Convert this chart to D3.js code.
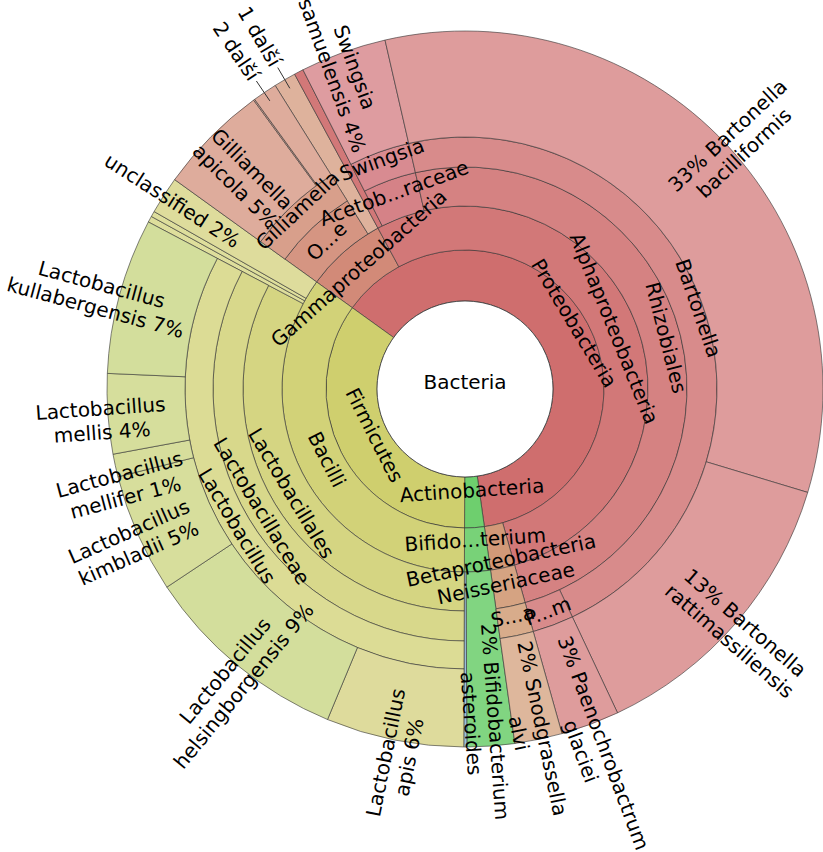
<!DOCTYPE html>
<html>
<head>
<meta charset="utf-8">
<script src="https://cdn.jsdelivr.net/npm/d3@7/dist/d3.min.js"></script>
<style>
body { margin: 0; background: #fff; }
text { font-family: "DejaVu Sans", Verdana, sans-serif; font-size: 20px; fill: #000; }
</style>
</head>
<body>
<script>
// taxonomy, children listed clockwise (Proteobacteria first)
var taxa = ["Bacteria",
  "Proteobacteria", "Gammaproteobacteria", "Orbales", "Gilliamella", "Gilliamella apicola",
  "Gilliamella sp. 1", "Gilliamella sp. 2", "Frischella perrara",
  "Alphaproteobacteria", "Alphaproteobacteria (other)", "Acetobacteraceae", "Swingsia", "Swingsia samuelensis",
  "Rhizobiales", "Bartonella", "Bartonella bacilliformis", "Bartonella rattimassiliensis",
  "Paenochrobactrum", "Paenochrobactrum glaciei",
  "Betaproteobacteria", "Neisseriaceae", "Snodgrassella", "Snodgrassella alvi",
  "Actinobacteria", "Bifidobacterium", "Bifidobacterium asteroides", "Bifidobacterium sp.",
  "Firmicutes", "Bacilli", "Lactobacillales", "Lactobacillaceae", "Lactobacillus",
  "Lactobacillus apis", "Lactobacillus helsingborgensis", "Lactobacillus kimbladii",
  "Lactobacillus mellifer", "Lactobacillus mellis", "Lactobacillus kullabergensis",
  "Bacillales", "Bacilli (other)", "unclassified"];
var parents = ["",
  "Bacteria", "Proteobacteria", "Gammaproteobacteria", "Orbales", "Gilliamella",
  "Gilliamella", "Gilliamella", "Gammaproteobacteria",
  "Proteobacteria", "Alphaproteobacteria", "Alphaproteobacteria", "Acetobacteraceae", "Swingsia",
  "Alphaproteobacteria", "Rhizobiales", "Bartonella", "Bartonella",
  "Rhizobiales", "Paenochrobactrum",
  "Proteobacteria", "Betaproteobacteria", "Neisseriaceae", "Snodgrassella",
  "Bacteria", "Actinobacteria", "Bifidobacterium", "Bifidobacterium",
  "Bacteria", "Firmicutes", "Bacilli", "Lactobacillales", "Lactobacillaceae",
  "Lactobacillus", "Lactobacillus", "Lactobacillus",
  "Lactobacillus", "Lactobacillus", "Lactobacillus",
  "Bacilli", "Bacilli", "Bacilli"];
// share of reads in % (leaves only)
var reads = [0,
  0, 0, 0, 0, 5.0,
  0.06, 1.1, 1.0,
  0, 0.42, 0, 0, 3.89,
  0, 0, 33.25, 13.33,
  0, 2.64,
  0, 0, 0, 2.14,
  0, 0, 2.14, 0.14,
  0, 0, 0, 0, 0,
  6.22, 9.39, 5.39,
  1.03, 3.61, 7.03,
  0.28, 0.25, 1.69];
// names krona shortens in the inner rings
var shortNames = {"Orbales": "O...e", "Acetobacteraceae": "Acetob...raceae", "Snodgrassella": "S...a",
  "Paenochrobactrum": "P...m", "Bifidobacterium": "Bifido...terium"};
// leaves too thin for a label, grouped as "n další"
var moreGroups = [["Gilliamella sp. 1", "Gilliamella sp. 2"], ["Frischella perrara"]];
var remainders = ["Alphaproteobacteria (other)"];
var silent = ["Bacillales", "Bacilli (other)", "Bifidobacterium sp."];

// hues per taxon (children inherit)
var hues = {"Proteobacteria": 0, "Gammaproteobacteria": 12, "Orbales": 14, "Gilliamella": 15,
  "Gilliamella sp. 2": 15, "Frischella perrara": 20, "Acetobacteraceae": 356,
  "Betaproteobacteria": 22, "Neisseriaceae": 24, "Snodgrassella": 25,
  "Actinobacteria": 120, "Bifidobacterium sp.": 205,
  "Firmicutes": 60, "Lactobacillus apis": 57, "Lactobacillus helsingborgensis": 70,
  "Lactobacillus kimbladii": 66, "Lactobacillus mellifer": 66, "Lactobacillus mellis": 67,
  "Lactobacillus kullabergensis": 70, "unclassified": 58};
var lightFix = {"Bifidobacterium asteroides": 67};
// radius of the leaf labels
var labelR = {"Gilliamella apicola": 306, "Swingsia samuelensis": 340, "Bifidobacterium asteroides": 334,
  "Snodgrassella alvi": 348, "unclassified": 348, "Paenochrobactrum glaciei": 380,
  "Lactobacillus apis": 372, "Lactobacillus helsingborgensis": 370, "Lactobacillus kullabergensis": 378,
  "Lactobacillus mellifer": 356};
// small turns (degrees) krona gives crowded leaf labels
var labelTurn = {"Lactobacillus mellifer": -2.5};
// radial nudges of ring labels (krona moves them apart)
var labelShift = {"Proteobacteria": 14, "Firmicutes": -12, "Actinobacteria": -12, "Bifidobacterium": -10,
  "Betaproteobacteria": 14, "Bacilli": -6, "Neisseriaceae": -4, "Acetobacteraceae": 6, "Rhizobiales": 5,
  "Swingsia": 7, "Bartonella": 10, "Gilliamella": 8, "Snodgrassella": -5};

var width = 823, height = 852;
var cx = 465, cy = 389;
var ringR = [88, 139, 183, 222, 252, 280], outerR = 358;
var startDeg = -54.2;

var svg = d3.select("body").append("svg")
  .attr("width", width).attr("height", height);
var g = svg.append("g").attr("transform", "translate(" + cx + "," + cy + ")");

var table = taxa.map(function(t, i) { return {id: t, parent: parents[i], value: reads[i]}; });
var root = d3.stratify().id(function(d) { return d.id; }).parentId(function(d) { return d.parent; })(table)
  .sum(function(d) { return d.value; });
d3.partition().size([2 * Math.PI, 1])(root);

var off = startDeg * Math.PI / 180;
root.each(function(d) {
  d.a0 = d.x0 + off;
  d.a1 = d.x1 + off;
  d.r0 = d.depth ? ringR[d.depth - 1] : 0;
  d.r1 = d.children ? ringR[d.depth] : outerR;
});

function hueOf(d) {
  if (hues[d.id] !== undefined) return hues[d.id];
  return d.parent ? hueOf(d.parent) : 0;
}
function color(d) {
  if (remainders.indexOf(d.id) >= 0) return color(d.parent);
  var l = d.children ? 62 + (d.depth - 1) * 2.6 : (lightFix[d.id] || 74);
  return d3.hsl(hueOf(d), 0.5, l / 100).toString();
}

var arc = d3.arc()
  .startAngle(function(d) { return d.a0; })
  .endAngle(function(d) { return d.a1; })
  .innerRadius(function(d) { return d.r0; })
  .outerRadius(function(d) { return d.r1; });

g.selectAll("path.node")
  .data(root.descendants().slice(1))
  .join("path")
  .attr("class", "node")
  .attr("d", arc)
  .attr("fill", color)
  .attr("stroke", "#333")
  .attr("stroke-width", 0.6);

g.append("circle").attr("r", ringR[0]).attr("fill", "#fff").attr("stroke", "#333").attr("stroke-width", 0.8);
g.append("text").attr("text-anchor", "middle").attr("y", 0).text(root.id);

function deg(a) { return a * 180 / Math.PI; }
function pos(a, r) { return [r * Math.sin(a), -r * Math.cos(a)]; }

// inner nodes: tangential labels
root.descendants().filter(function(d) { return d.depth > 0 && d.children; }).forEach(function(d) {
  var a = (d.a0 + d.a1) / 2, r = (d.r0 + d.r1) / 2 + (labelShift[d.id] || 0);
  var t = deg(a);
  while (t > 270) t -= 360;
  while (t <= -90) t += 360;
  var rot = t <= 90 ? t : t - 180;
  var p = pos(a, r);
  g.append("text")
    .attr("text-anchor", "middle")
    .attr("dominant-baseline", "central")
    .attr("transform", "translate(" + p[0] + "," + p[1] + ") rotate(" + rot + ")")
    .text(shortNames[d.id] || d.id);
});

function radialRot(a) {
  var t = deg(a);
  while (t < 0) t += 360;
  while (t >= 360) t -= 360;
  return {out: t < 180, rot: t < 180 ? t - 90 : t - 270};
}

var hidden = d3.merge(moreGroups).concat(remainders, silent);
// leaves: radial labels
root.leaves().filter(function(d) { return hidden.indexOf(d.id) < 0; }).forEach(function(d) {
  var a = (d.a0 + d.a1) / 2 + (labelTurn[d.id] || 0) * Math.PI / 180;
  var rr = radialRot(a);
  var pct = Math.round(d.value / root.value * 100) + "%";
  var parts = d.id.split(" ");
  var lines;
  if (parts.length > 1) {
    lines = rr.out ? [pct + " " + parts[0], parts.slice(1).join(" ")]
                   : [parts[0], parts.slice(1).join(" ") + " " + pct];
  } else {
    lines = [rr.out ? pct + " " + d.id : d.id + " " + pct];
  }
  var p = pos(a, labelR[d.id] || 365);
  var txt = g.append("text")
    .attr("text-anchor", "middle")
    .attr("dominant-baseline", "central")
    .attr("transform", "translate(" + p[0] + "," + p[1] + ") rotate(" + rr.rot + ")");
  lines.forEach(function(s, i) {
    txt.append("tspan").attr("x", 0).attr("y", lines.length > 1 ? i * 24 - 6 : 0).text(s);
  });
});

// "n další" labels with pointer lines
moreGroups.forEach(function(grp) {
  var nodes = root.leaves().filter(function(d) { return grp.indexOf(d.id) >= 0; });
  var a0 = d3.min(nodes, function(d) { return d.a0; }), a1 = d3.max(nodes, function(d) { return d.a1; });
  var a = (a0 + a1) / 2;
  var p1 = pos(a, 348), p2 = pos(a, 372), p = pos(a, 408);
  g.append("line").attr("x1", p1[0]).attr("y1", p1[1]).attr("x2", p2[0]).attr("y2", p2[1])
    .attr("stroke", "#333").attr("stroke-width", 1);
  var rr = radialRot(a);
  g.append("text")
    .attr("text-anchor", "middle")
    .attr("dominant-baseline", "central")
    .attr("transform", "translate(" + p[0] + "," + p[1] + ") rotate(" + rr.rot + ")")
    .text(nodes.length + " další");
});
</script>
</body>
</html>
